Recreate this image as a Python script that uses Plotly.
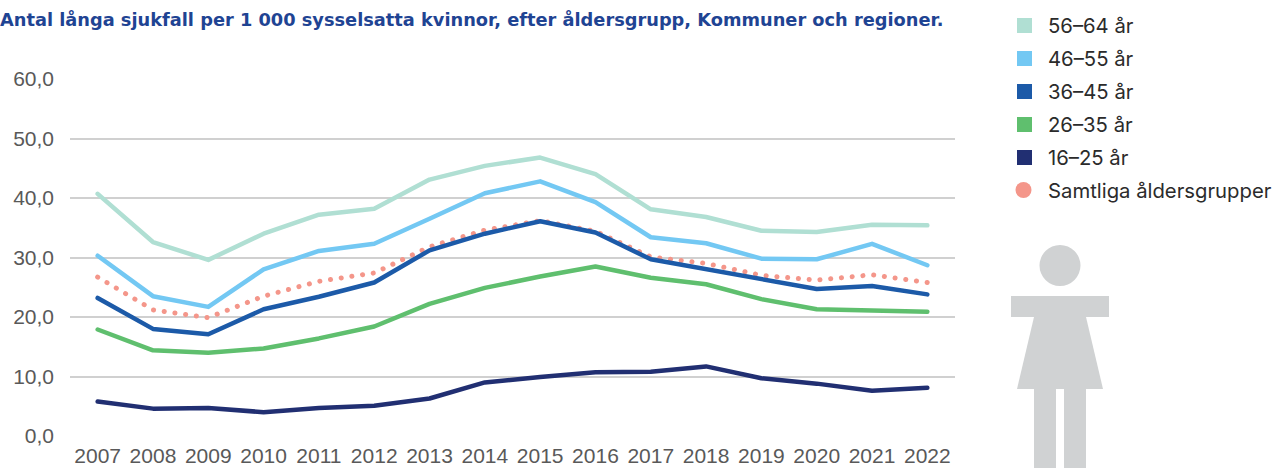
import plotly.graph_objects as go

years = [str(y) for y in range(2007, 2023)]
age_56_64 = [40.7, 32.6, 29.6, 34.0, 37.2, 38.2, 43.1, 45.4, 46.8, 44.0, 38.1, 36.8, 34.5, 34.3, 35.5, 35.4]
age_46_55 = [30.3, 23.5, 21.7, 28.0, 31.1, 32.3, 36.5, 40.8, 42.8, 39.3, 33.4, 32.4, 29.8, 29.7, 32.3, 28.7]
age_36_45 = [23.2, 18.0, 17.1, 21.3, 23.4, 25.8, 31.2, 34.0, 36.1, 34.2, 29.7, 28.0, 26.4, 24.7, 25.2, 23.8]
age_26_35 = [17.9, 14.4, 14.0, 14.7, 16.4, 18.4, 22.2, 24.9, 26.8, 28.5, 26.6, 25.5, 23.0, 21.3, 21.1, 20.9]
age_16_25 = [5.8, 4.6, 4.7, 4.0, 4.7, 5.1, 6.3, 9.0, 9.9, 10.7, 10.8, 11.7, 9.7, 8.8, 7.6, 8.1]
age_all = [26.7, 21.2, 19.9, 23.5, 26.0, 27.4, 31.8, 34.6, 36.2, 34.4, 30.1, 29.0, 27.0, 26.2, 27.1, 25.8]

names = ["56–64 år", "46–55 år", "36–45 år", "26–35 år", "16–25 år", "Samtliga åldersgrupper"]
colors = ["#B0DFD3", "#73C8F3", "#1C5AA8", "#5FBF6E", "#212F72", "#F4968A"]
series = [age_56_64, age_46_55, age_36_45, age_26_35, age_16_25, age_all]
title_text = "Antal långa sjukfall per 1 000 sysselsatta kvinnor, efter åldersgrupp, Kommuner och regioner."
y_ticks = [0, 10, 20, 30, 40, 50, 60]
y_labels = ["0,0", "10,0", "20,0", "30,0", "40,0", "50,0", "60,0"]

W, H = 1272, 468
L, R, T, B = 70, 955, 79, 436
px = lambda x: (x - L) / (R - L)
py = lambda y: (B - y) / (B - T)

fig = go.Figure()
order = [5, 0, 1, 3, 4, 2]
for i in order:
    dotted = i == 5
    fig.add_trace(go.Scatter(
        x=years, y=series[i], mode="lines", name=names[i], showlegend=False,
        line=dict(color=colors[i], width=5 if dotted else 4.5, dash="0.1px,10.7px" if dotted else "solid"),
    ))

shapes, annotations = [], []
def rect(x0, y0, x1, y1, c):
    shapes.append(dict(type="rect", xref="paper", yref="paper", x0=px(x0), x1=px(x1), y0=py(y0), y1=py(y1),
                       fillcolor=c, line=dict(width=0), layer="above"))
def circle(cx, cy, r, c):
    shapes.append(dict(type="circle", xref="paper", yref="paper", x0=px(cx - r), x1=px(cx + r), y0=py(cy - r), y1=py(cy + r),
                       fillcolor=c, line=dict(width=0), layer="above"))

for i, name in enumerate(names):
    yc = 25.5 + 33 * i
    if i < 5:
        rect(1017, yc - 7.5, 1032, yc + 7.5, colors[i])
    else:
        circle(1023.5, yc - 0.5, 8, colors[i])
    annotations.append(dict(text=name, xref="paper", yref="paper", x=px(1045.5), y=py(yc), xanchor="left", yanchor="middle",
                            showarrow=False, font=dict(family="Inter", size=20.3, color="#2B2B2B")))

grey = "#D0D2D3"
circle(1060, 265.5, 20.5, grey)
rect(1011, 296, 1109, 317, grey)
pts = [(1034, 317), (1086, 317), (1103, 389), (1017, 389)]
path = "M " + " L ".join(f"{px(x)},{py(y)}" for x, y in pts) + " Z"
shapes.append(dict(type="path", xref="paper", yref="paper", path=path, fillcolor=grey, line=dict(width=0)))
rect(1034, 388, 1056, 470, grey)
rect(1064, 388, 1086, 470, grey)

annotations.append(dict(text="<b>" + title_text + "</b>", xref="paper", yref="paper", x=px(-2), y=py(20), xanchor="left", yanchor="middle",
                        showarrow=False, font=dict(family="DejaVu Sans", size=17.8, color="#1F4493")))

fig.update_layout(
    width=W, height=H, margin=dict(l=L, r=W - R, t=T, b=H - B),
    paper_bgcolor="white", plot_bgcolor="white", showlegend=False,
    shapes=shapes, annotations=annotations,
    font=dict(family="Liberation Sans", size=21, color="#595959"),
    xaxis=dict(type="category", range=[-0.5, 15.5], showgrid=False, zeroline=False, showline=False, ticks="",
               tickfont=dict(family="Liberation Sans", size=21, color="#595959"), ticklabelstandoff=5, automargin=False),
    yaxis=dict(range=[0, 60], tickvals=y_ticks, ticktext=y_labels, gridcolor="#D0D0D0", gridwidth=2, zeroline=False,
               showline=False, ticks="", ticklen=0, tickfont=dict(family="Liberation Sans", size=21, color="#595959"),
               ticklabelstandoff=15, automargin=False),
)

post = """
document.body.style.margin='0';document.body.style.overflow='hidden';
document.querySelectorAll('.scatterlayer .js-line').forEach(function(p){p.style.strokeLinecap='round';p.style.strokeLinejoin='round';});
"""
fig.write_html("out.html", post_script=post, config={"displayModeBar": False})
